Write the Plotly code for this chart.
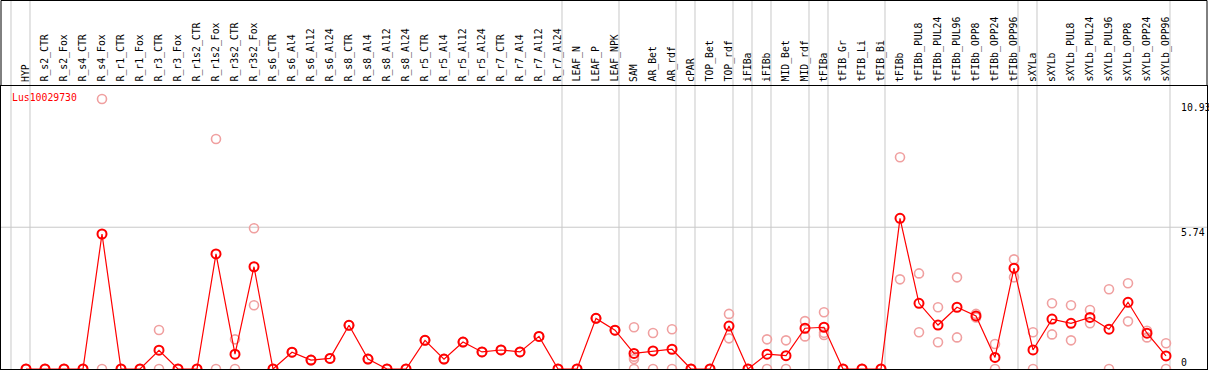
import plotly.graph_objects as go

categories = ["HYP", "R_s2_CTR", "R_s2_Fox", "R_s4_CTR", "R_s4_Fox", "R_r1_CTR", "R_r1_Fox",
              "R_r3_CTR", "R_r3_Fox", "R_r1s2_CTR", "R_r1s2_Fox", "R_r3s2_CTR", "R_r3s2_Fox",
              "R_s6_CTR", "R_s6_Al4", "R_s6_Al12", "R_s6_Al24", "R_s8_CTR", "R_s8_Al4", "R_s8_Al12",
              "R_s8_Al24", "R_r5_CTR", "R_r5_Al4", "R_r5_Al12", "R_r5_Al24", "R_r7_CTR", "R_r7_Al4",
              "R_r7_Al12", "R_r7_Al24", "LEAF_N", "LEAF_P", "LEAF_NPK", "SAM", "AR_Bet", "AR_rdf",
              "cPAR", "TOP_Bet", "TOP_rdf", "iFIBa", "iFIBb", "MID_Bet", "MID_rdf", "tFIBa",
              "tFIB_Gr", "tFIB_Li", "tFIB_Bi", "tFIBb", "tFIBb_PUL8", "tFIBb_PUL24", "tFIBb_PUL96",
              "tFIBb_OPP8", "tFIBb_OPP24", "tFIBb_OPP96", "sXYLa", "sXYLb", "sXYLb_PUL8",
              "sXYLb_PUL24", "sXYLb_PUL96", "sXYLb_OPP8", "sXYLb_OPP24", "sXYLb_OPP96"]

# mean expression (main line)
mean_values = [0, 0, 0, 0, 5.465, 0, 0, 0.76, 0, 0, 4.66, 0.60, 4.14, 0, 0.68, 0.36, 0.43, 1.77,
               0.40, 0, 0, 1.16, 0.40, 1.09, 0.69, 0.77, 0.69, 1.32, 0, 0, 2.05, 1.57, 0.63, 0.73,
               0.80, 0, 0, 1.74, 0, 0.60, 0.54, 1.65, 1.69, 0, 0, 0, 6.10, 2.66, 1.78, 2.50, 2.15,
               0.47, 4.08, 0.77, 2.02, 1.85, 2.09, 1.61, 2.70, 1.45, 0.53]

# replicate values (light markers)
rep_a = [0, 0, 0, 0, 10.93, 0, 0, 1.58, 0, 0, 9.31, 1.20, 5.70, 0, 0.68, 0.36, 0.43, 1.77, 0.40,
         0, 0, 1.16, 0.40, 1.09, 0.69, 0.77, 0.69, 1.32, 0, 0, 2.05, 1.57, 1.69, 1.46, 1.61, 0, 0,
         2.23, 0, 1.20, 1.16, 1.94, 2.30, 0, 0, 0, 8.57, 3.87, 2.50, 3.71, 2.09, 1.01, 4.44, 1.49,
         2.66, 2.58, 2.39, 3.23, 3.47, 1.55, 1.04]
rep_b = [0, 0, 0, 0, 0, 0, 0, 0, 0, 0, 0, 0, 2.58, 0, 0.68, 0.36, 0.43, 1.77, 0.40, 0, 0, 1.16,
         0.40, 1.09, 0.69, 0.77, 0.69, 1.32, 0, 0, 2.05, 1.57, 0, 0, 0, 0, 0, 1.24, 0, 0, 0, 1.32,
         1.47, 0, 0, 0, 3.63, 1.49, 1.08, 1.28, 2.23, 0, 3.71, 0, 1.40, 1.16, 1.85, 0, 1.93, 1.28, 0]
rep_extra_cat = ["SAM", "SAM", "tFIBa"]
rep_extra_val = [0.50, 0.40, 1.38]

# group separators (after these categories)
separators = ["HYP", "R_r7_Al24", "LEAF_NPK", "AR_rdf", "cPAR", "TOP_rdf", "iFIBa", "iFIBb",
              "MID_rdf", "tFIBa", "tFIB_Bi", "tFIBb_OPP96", "sXYLa", "sXYLb_OPP96"]

axis_ticks = [0, 5.74, 10.93]
axis_tick_labels = ["0", "5.74", "10.93"]
title_text = "Lus10029730"

W, H = 1209, 370
L, R, T, B = 1, 2, 86, 1
plot_w = W - L - R
plot_h = H - T - B
px_per_cat = 19.0
first_px = 26.0
px_per_unit = 24.7

xi = list(range(len(categories)))
x0 = -(first_px - L) / px_per_cat
x1 = x0 + plot_w / px_per_cat
ymax = plot_h / px_per_unit

FONT = "DejaVu Sans Mono"
FS = 9.8

fig = go.Figure()

rep_x = xi + xi + [categories.index(c) for c in rep_extra_cat]
rep_y = rep_a + rep_b + rep_extra_val
fig.add_trace(go.Scatter(x=rep_x, y=rep_y, mode="markers",
                         marker=dict(symbol="circle-open", size=9, color="#F0A0A0",
                                     line=dict(width=1.6, color="#F0A0A0")),
                         cliponaxis=False, hoverinfo="skip", showlegend=False))
fig.add_trace(go.Scatter(x=xi, y=mean_values, mode="lines+markers",
                         line=dict(color="#FF0000", width=1.2),
                         marker=dict(symbol="circle-open", size=9, color="#FF0000",
                                     line=dict(width=2, color="#FF0000")),
                         cliponaxis=False, showlegend=False))

top_paper = (H - B - 0.5) / plot_h
shapes = []
# vertical separators
sep_x = [-1] + [categories.index(c) for c in separators]
for s in sep_x:
    shapes.append(dict(type="line", xref="x", yref="paper", x0=s + 0.21, x1=s + 0.21,
                       y0=0, y1=top_paper, line=dict(color="#C8C8C8", width=1), layer="below"))
# horizontal gridline
shapes.append(dict(type="line", xref="paper", yref="y", x0=0, x1=1, y0=axis_ticks[1],
                   y1=axis_ticks[1], line=dict(color="#C8C8C8", width=1), layer="below"))
# header frame
shapes.append(dict(type="line", xref="paper", yref="paper", x0=0, x1=1, y0=top_paper, y1=top_paper,
                   line=dict(color="black", width=1)))
shapes.append(dict(type="line", xref="paper", yref="paper", x0=0, x1=0, y0=1, y1=top_paper,
                   line=dict(color="black", width=1)))
shapes.append(dict(type="line", xref="paper", yref="paper", x0=1, x1=1, y0=1, y1=top_paper,
                   line=dict(color="black", width=1)))

annotations = []
label_y = (H - B - 84) / plot_h
for i, c in enumerate(categories):
    annotations.append(dict(text=c, x=i, xref="x", y=label_y, yref="paper", xanchor="center",
                            yanchor="bottom", textangle=-90, showarrow=False, xshift=0,
                            font=dict(family=FONT, size=FS, color="black")))
lab_x = (1179 - L) / plot_w
label_shift = [7, -5, -8]
for v, t, s in zip(axis_ticks, axis_tick_labels, label_shift):
    annotations.append(dict(text=t, x=lab_x, xref="paper", y=v, yref="y", xanchor="left",
                            yanchor="middle", yshift=s, showarrow=False,
                            font=dict(family=FONT, size=FS, color="black")))
annotations.append(dict(text=title_text, x=(10 - L) / plot_w, xref="paper",
                        y=(H - B - 97) / plot_h, yref="paper", xanchor="left", yanchor="middle",
                        showarrow=False, font=dict(family=FONT, size=FS, color="#FF0000")))

fig.update_layout(
    width=W, height=H, margin=dict(l=L, r=R, t=T, b=B, pad=0),
    paper_bgcolor="white", plot_bgcolor="white",
    xaxis=dict(range=[x0, x1], showgrid=False, zeroline=False, showticklabels=False,
               showline=True, mirror=True, linecolor="black", linewidth=1, ticks=""),
    yaxis=dict(range=[0, ymax], showgrid=False, zeroline=False, showticklabels=False,
               showline=True, mirror=True, linecolor="black", linewidth=1, ticks=""),
    shapes=shapes, annotations=annotations, showlegend=False,
)

fig.write_html("out.html", config={"displayModeBar": False},
               post_script="document.body.style.margin='0';document.body.style.overflow='hidden';")
